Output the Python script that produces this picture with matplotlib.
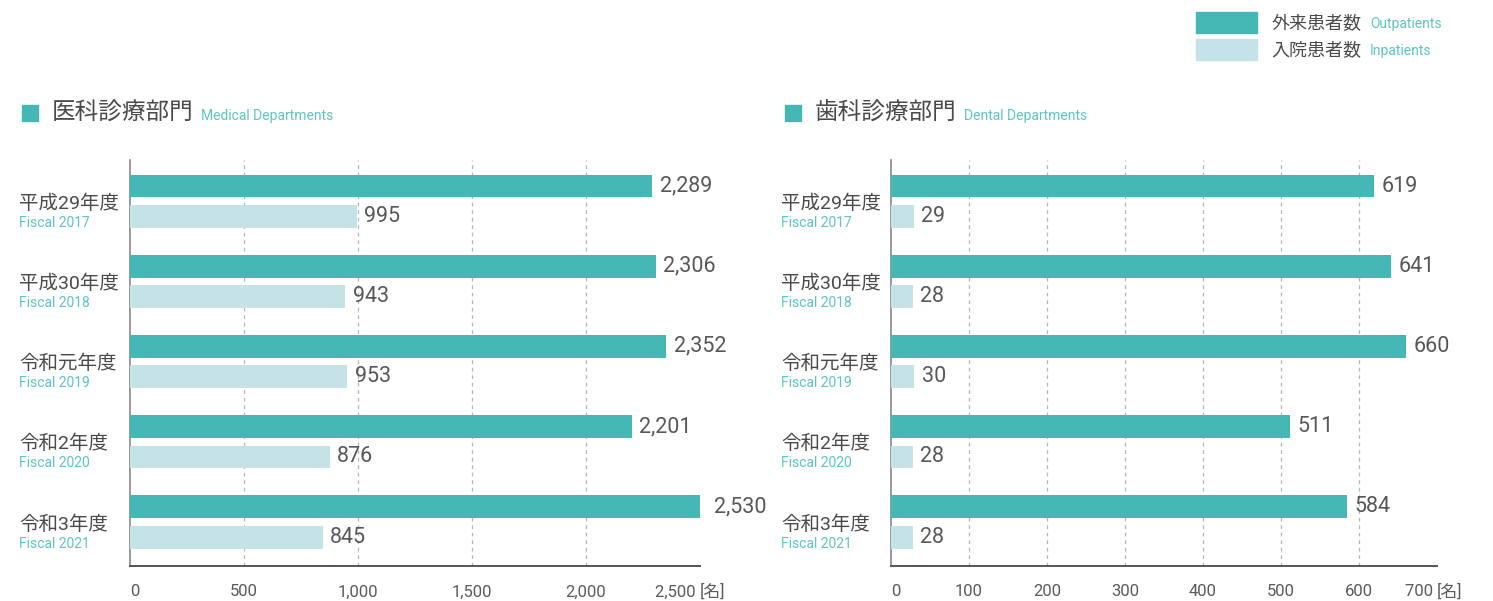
import matplotlib
matplotlib.use("Agg")
import matplotlib.pyplot as plt
from matplotlib.patches import Rectangle
from matplotlib.transforms import blended_transform_factory

plt.rcParams['font.family'] = ['Roboto', 'Noto Sans CJK JP', 'DejaVu Sans']

# data
years_jp = ["平成29年度", "平成30年度", "令和元年度", "令和2年度", "令和3年度"]
years_en = ["Fiscal 2017", "Fiscal 2018", "Fiscal 2019", "Fiscal 2020", "Fiscal 2021"]
medical_out = [2289, 2306, 2352, 2201, 2530]
medical_in = [995, 943, 953, 876, 845]
dental_out = [619, 641, 660, 511, 584]
dental_in = [29, 28, 30, 28, 28]
medical_ticks = [0, 500, 1000, 1500, 2000, 2500]
dental_ticks = [0, 100, 200, 300, 400, 500, 600, 700]

TEAL = "#45b8b5"
LIGHT = "#c5e3e6"
GRAY = "#4a4a4a"
TEAL_TXT = "#5cc6c2"

W, H = 1493, 601
fig = plt.figure(figsize=(W / 100, H / 100), dpi=100)


def px(x, y):
    return x / W, 1 - y / H


def panel(left_px, right_px, out_vals, in_vals, ticks, title_jp, title_en, title_x, label_x):
    l, b = px(left_px, 566)
    r, t = px(right_px, 160)
    ax = fig.add_axes([l, b, r - l, t - b])
    pos = list(range(len(out_vals)))
    ax.barh([p - 0.19 for p in pos], out_vals, height=0.285, color=TEAL, zorder=3)
    ax.barh([p + 0.19 for p in pos], in_vals, height=0.285, color=LIGHT, zorder=3)
    for p, v in zip(pos, out_vals):
        ax.annotate("{:,}".format(v), (v, p - 0.19), xytext=(5.5, 0), textcoords="offset points",
                    va="center", ha="left", fontsize=15.5, color="#575757", annotation_clip=False)
    for p, v in zip(pos, in_vals):
        ax.annotate("{:,}".format(v), (v, p + 0.19), xytext=(5.5, 0), textcoords="offset points",
                    va="center", ha="left", fontsize=15.5, color="#575757", annotation_clip=False)
    ax.set_xlim(ticks[0], ticks[-1])
    ax.set_ylim(4.55, -0.515)
    ax.set_yticks([])
    ax.set_xticks(ticks)
    ax.set_xticklabels([])
    ax.tick_params(length=0)
    for s in ["top", "right"]:
        ax.spines[s].set_visible(False)
    ax.spines["left"].set_color("#888888")
    ax.spines["left"].set_linewidth(1.2)
    ax.spines["bottom"].set_color("#555555")
    ax.spines["bottom"].set_linewidth(1.4)
    for tk in ticks[1:-1]:
        ax.axvline(tk, color="#b5b5b5", linestyle=(0, (3, 3)), linewidth=0.9, zorder=1)

    # tick labels
    tr = blended_transform_factory(ax.transData, fig.transFigure)
    ty = px(0, 592)[1]
    kw = dict(transform=tr, va="center", fontsize=12, color="#5a5a5a")
    for i, tk in enumerate(ticks):
        lab = "{:,}".format(tk)
        if i == 0:
            ax.text(tk, ty, lab, ha="left", **kw)
        elif i == len(ticks) - 1:
            ax.text(tk, ty, lab + " ", ha="right", **kw)
            ax.text(tk, ty, "[名]", ha="left", **kw)
        else:
            ax.text(tk, ty, lab, ha="center", **kw)

    # category labels
    tr2 = blended_transform_factory(fig.transFigure, ax.transData)
    for p, jp, en in zip(pos, years_jp, years_en):
        ax.text(label_x / W, p + 0.03, jp, transform=tr2, ha="left", va="center", fontsize=14, color=GRAY)
        ax.text(label_x / W, p + 0.27, en, transform=tr2, ha="left", va="center", fontsize=10, color=TEAL_TXT)

    # panel title
    fig.patches.append(Rectangle(px(title_x, 121), 16 / W, 16 / H, transform=fig.transFigure,
                                 color=TEAL, figure=fig))
    fig.text(*px(title_x + 30, 113), title_jp, ha="left", va="center", fontsize=17, color=GRAY)
    fig.text(*px(title_x + 179, 116), title_en, ha="left", va="center", fontsize=10, color=TEAL_TXT)
    return ax


panel(130, 700, medical_out, medical_in, medical_ticks, "医科診療部門", "Medical Departments", 22, 19)
panel(891, 1437, dental_out, dental_in, dental_ticks, "歯科診療部門", "Dental Departments", 785, 781)

# legend
for y0, col, jp, en in [(12, TEAL, "外来患者数", "Outpatients"), (39, LIGHT, "入院患者数", "Inpatients")]:
    fig.patches.append(Rectangle(px(1196, y0 + 21), 61 / W, 21 / H, transform=fig.transFigure,
                                 color=col, figure=fig))
    fig.text(*px(1271, y0 + 11), jp, ha="left", va="center", fontsize=13, color=GRAY)
    fig.text(*px(1370, y0 + 12), en, ha="left", va="center", fontsize=10, color=TEAL_TXT)

fig.savefig("out.png", dpi=100)
